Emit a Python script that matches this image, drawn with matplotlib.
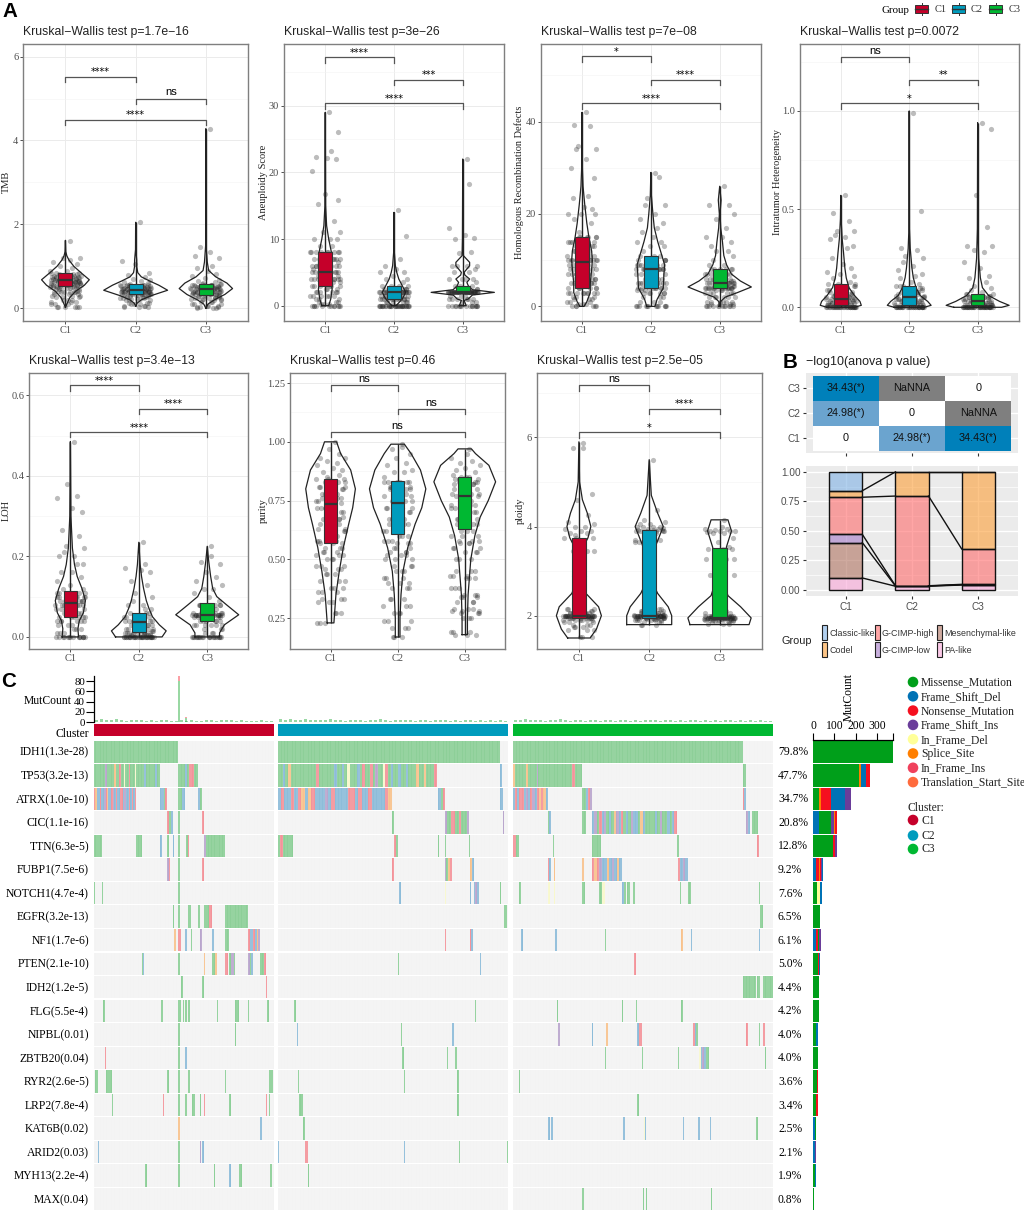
import matplotlib
matplotlib.use('Agg')
import matplotlib.pyplot as plt
import numpy as np
from matplotlib.patches import Rectangle, Circle

W, H = 1024, 1211
SERIF = 'Liberation Serif'
SANS = 'Liberation Sans'
cats = ['C1', 'C2', 'C3']
cl_col = ['#C5002A', '#009CBD', '#00B832']

# hand typed jitter offsets shared by the point clouds
jitter = [-.12, .17, .03, -.2, .09, -.05, .21, -.16, .13, -.02, .19, -.09, .06, -.18, .15, -.13, .01, .22, -.07, .11,
          -.21, .04, .18, -.1, .14, -.15, .08, -.03, .2, -.19, .05, .12, -.06, .16, -.14, .02, -.22, .1, -.08, .17,
          -.17, .07, .21, -.04, .13, -.11, .19, -.01, -.2, .15, .03, -.13, .09, .18, -.16, .06, -.09, .2, -.06, .12]

# TMB
tmb_vy = [[.02, .1, .25, .4, .55, .68, .85, 1.0, 1.15, 1.25, 1.35, 1.62],
          [.05, .12, .2, .3, .43, .55, .65, .75, .85, 1.0, 1.15, 1.4, 2.05],
          [0, .1, .2, .33, .47, .6, .75, .9, 1.1, 1.5, 4.28]]
tmb_vw = [[0, .02, .06, .14, .27, .34, .22, .12, .05, .02, .005, 0],
          [0, .02, .08, .22, .455, .33, .2, .08, .03, .015, .015, .002, 0],
          [0, .03, .12, .27, .38, .3, .14, .04, .02, .003, 0]]
tmb_box = [[.53, .68, .85], [.34, .44, .57], [.32, .45, .59]]
tmb_pts = [[.03, .03, .1, .15, .2, .28, .3, .35, .38, .4, .42, .45, .48, .5, .5, .52, .55, .55, .58, .6, .6, .62, .62, .65, .65,
            .68, .7, .7, .72, .75, .75, .78, .8, .82, .85, .88, .9, .95, 1, 1.05, 1.1, 1.15, 1.2, 1.2, 1.6],
           [.03, .06, .1, .12, .2, .22, .25, .28, .3, .32, .33, .35, .35, .38, .38, .4, .4, .42, .42, .44, .45, .45, .47, .48, .48,
            .5, .5, .52, .52, .55, .55, .58, .6, .62, .65, .68, .7, .75, .8, .85, 1.05, 1.12, 2.05],
           [0, .03, .05, .1, .15, .2, .22, .25, .28, .3, .32, .33, .35, .36, .38, .4, .4, .42, .43, .45, .45, .47, .48, .5, .5, .52,
            .55, .56, .58, .6, .62, .65, .68, .72, .78, .82, .9, .95, 1.0, 1.2, 1.25, 1.35, 1.45, 4.28]]

# Aneuploidy
ane_vy = [[0, 1, 2.5, 4, 6, 8, 10, 12, 15, 29], [0, 1, 2, 3, 4, 5, 6, 8, 14],
          [0, .8, 1, 1.6, 2, 2.4, 3, 3.5, 4, 4.6, 5, 6, 6.5, 7.5, 10, 22]]
ane_vw = [[.05, .08, .1, .08, .1, .09, .05, .02, .005, 0], [.03, .12, .17, .12, .07, .04, .02, .005, 0],
          [.05, .02, .08, .14, .46, .14, .08, .06, .1, .03, .02, .1, .1, .01, .005, 0]]
ane_box = [[3, 5, 8], [1, 2, 2.9], [1.9, 2, 2.9]]
ane_pts = [[0, 0, 0, 0, .2, .5, 1, 1.5, 1.5, 2, 2, 2.5, 3, 3, 3.5, 4, 4, 4, 4.5, 5, 5, 5, 5.5, 6, 6, 6.5, 7, 7, 7, 8, 8, 8, 9, 9,
            10, 10, 10, 11, 11, 12.7, 15.2, 15.9, 16.7, 20.2, 22, 22.2, 22.3, 23.2, 26, 29],
           [0, 0, 0, 0, 0, 0, 0, 0, 0, 0, .5, .5, 1, 1, 1, 1, 1.5, 1.5, 2, 2, 2, 2, 2, 2, 2, 2, 2.5, 2.5, 3, 3, 3, 3, 3.5, 4, 4, 4.5,
            5, 5, 5.5, 6, 7, 10.4, 14.3],
           [0, 0, 0, 0, 0, .5, 1, 1, 1.5, 2, 2, 2, 2, 2, 2, 2, 2, 2, 2, 2, 2, 2, 2, 2.5, 3, 3, 3, 3.5, 4, 4, 4, 4, 5, 5, 5.5, 6, 6, 6,
            6, 7.9, 8, 10, 10.2, 10.6, 11.6, 18.2, 22]]

# Homologous recombination
hrd_vy = [[0, 1, 3, 5, 8, 10, 12, 15, 18, 22, 26, 30, 42], [0, 1.5, 4, 7, 9, 11, 14, 17, 20, 24, 29],
          [0, 1, 2, 3, 4.2, 5.5, 7, 9, 11, 14, 17, 20, 23, 26]]
hrd_vw = [[.03, .07, .12, .12, .14, .15, .14, .1, .07, .04, .015, .005, 0],
          [.06, .09, .18, .19, .2, .16, .1, .05, .03, .008, 0],
          [.01, .01, .08, .26, .46, .3, .17, .1, .06, .04, .015, .005, .02, 0]]
hrd_box = [[4, 9.5, 15], [4, 8, 11], [4, 5, 8]]
hrd_pts = [[0, 0, .5, 1, 1.5, 2, 3, 3, 3, 4, 4, 5, 5, 6, 6, 7, 7, 8, 8, 9, 9, 10, 10, 10, 10, 11, 11, 12, 13, 14, 14, 15, 15, 16,
            18, 19, 20, 20, 20, 21, 21.5, 23.5, 24, 27.8, 30, 32, 34, 34, 34.8, 39, 39.3, 42],
           [0, 0, 0, 0, 1, 2, 3, 3, 3.5, 4, 4, 4, 5, 5, 5, 6, 6, 7, 7, 8, 8, 8, 9, 9, 9, 10, 10, 11, 12, 13, 13, 14, 14, 15, 16, 17,
            18, 19, 20, 22, 22, 23.5, 28, 28.8],
           [0, 0, 0, 0, .5, 1, 1, 2, 2, 3, 3, 3.5, 4, 4, 4, 4, 4, 4.5, 4.5, 5, 5, 5, 5, 5.5, 6, 6, 7, 7, 8, 8, 9, 9, 10, 11, 12, 12, 13,
            14, 15, 15, 17, 19, 20, 22, 22, 26]]

# Intratumor heterogeneity
ith_vy = [[0, .01, .03, .06, .1, .15, .2, .28, .35, .45, .57], [0, .01, .03, .06, .1, .15, .2, .3, .4, 1.0],
          [0, .01, .03, .06, .1, .15, .25, .4, .94]]
ith_vw = [[.2, .3, .28, .2, .12, .08, .06, .04, .02, .005, 0], [.22, .32, .27, .16, .1, .06, .04, .015, .004, 0],
          [.35, .46, .32, .16, .07, .04, .015, .004, 0]]
ith_box = [[.01, .04, .12], [.01, .05, .11], [.01, .03, .07]]
ith_pts = [[0, 0, 0, 0, 0, 0, 0, 0, 0, 0, .01, .01, .01, .02, .02, .03, .03, .03, .04, .04, .05, .05, .06, .07, .08, .09, .1, .11, .12,
            .13, .15, .16, .17, .18, .2, .22, .25, .3, .31, .35, .36, .37, .39, .39, .44, .48, .57],
           [0, 0, 0, 0, 0, 0, 0, 0, 0, 0, .01, .01, .01, .02, .02, .03, .03, .04, .04, .05, .05, .06, .07, .08, .09, .1, .11, .12, .13,
            .15, .16, .17, .19, .21, .23, .25, .26, .29, .3, .49, .99],
           [0, 0, 0, 0, 0, 0, 0, 0, 0, 0, 0, 0, .01, .01, .01, .01, .02, .02, .03, .03, .04, .04, .05, .05, .06, .07, .08, .09, .1, .11,
            .13, .15, .16, .2, .23, .28, .29, .31, .31, .41, .57, .91, .94]]

# LOH
loh_vy = [[0, .02, .04, .06, .09, .12, .15, .18, .22, .3, .485], [0, .015, .03, .05, .07, .09, .12, .15, .18, .235],
          [0, .01, .03, .055, .08, .1, .12, .15, .19, .225]]
loh_vw = [[.12, .11, .13, .19, .22, .17, .1, .06, .03, .008, 0], [.34, .4, .3, .2, .15, .11, .07, .04, .02, 0],
          [.18, .18, .25, .46, .28, .14, .08, .05, .02, 0]]
loh_box = [[.05, .085, .115], [.012, .037, .06], [.04, .055, .083]]
loh_pts = [[0, 0, 0, 0, 0, .01, .02, .03, .04, .04, .05, .05, .06, .06, .07, .07, .08, .08, .09, .09, .1, .1, .1, .11, .11, .12, .12,
            .13, .14, .15, .16, .16, .18, .18, .2, .2, .21, .22, .225, .25, .265, .31, .32, .345, .35, .38, .485],
           [0, 0, 0, 0, 0, 0, 0, 0, 0, 0, .005, .005, .01, .01, .01, .015, .02, .02, .03, .03, .04, .04, .05, .05, .06, .07, .07, .08, .08,
            .09, .1, .11, .13, .14, .16, .165, .17, .18, .235],
           [0, 0, 0, 0, 0, 0, 0, .01, .02, .03, .03, .04, .04, .05, .05, .055, .055, .055, .055, .055, .055, .055, .06, .06, .07, .08, .08, .09,
            .1, .11, .12, .12, .13, .14, .15, .16, .18, .185, .2, .225]]

# purity
pur_vy = [[.23, .27, .35, .45, .55, .65, .72, .8, .88, .95, 1.0], [.17, .25, .35, .45, .55, .65, .72, .8, .88, .95, .99],
          [.18, .25, .35, .5, .6, .68, .75, .83, .9, .95, .97]]
pur_vw = [[.05, .06, .08, .13, .19, .27, .33, .37, .3, .15, .09], [.035, .035, .05, .08, .15, .26, .36, .42, .34, .2, .1],
          [.04, .04, .05, .09, .15, .23, .35, .46, .36, .16, .1]]
pur_box = [[.57, .735, .84], [.61, .74, .835], [.63, .77, .85]]
pur_pts = [[.23, .27, .32, .33, .36, .38, .41, .44, .46, .47, .5, .52, .53, .55, .57, .58, .6, .62, .63, .65, .67, .68, .7, .72, .74, .75,
            .76, .78, .8, .81, .82, .83, .84, .85, .86, .87, .88, .89, .9, .91, .92, .93, .93, .95, .97, 1.0],
           [.17, .21, .24, .27, .3, .33, .38, .4, .42, .45, .47, .5, .52, .53, .55, .57, .58, .6, .62, .65, .67, .7, .72, .72, .75, .77, .78,
            .8, .81, .83, .83, .85, .87, .87, .88, .9, .91, .93, .95, .97, .98, .99],
           [.18, .19, .25, .27, .28, .29, .32, .34, .35, .38, .42, .43, .45, .5, .53, .55, .57, .58, .6, .62, .65, .67, .7, .72, .73, .75, .77,
            .78, .8, .82, .83, .83, .84, .85, .86, .87, .88, .89, .9, .91, .92, .93, .95, .97]]

# ploidy
plo_vy = [[1.5, 1.7, 2, 2.2, 2.5, 2.8, 3.2, 3.5, 3.75, 4, 4.3, 4.6, 5, 5.9],
          [1.8, 2, 2.2, 2.5, 2.8, 3.2, 3.6, 4, 4.3, 4.7, 5.5], [1.8, 1.95, 2.2, 2.45, 2.8, 3.2, 3.55, 3.9, 4.15]]
plo_vw = [[.16, .25, .32, .28, .1, .03, .03, .05, .13, .17, .12, .05, .01, 0],
          [.32, .32, .27, .12, .03, .03, .1, .2, .12, .03, 0], [.42, .45, .3, .12, .05, .05, .1, .17, .12]]
plo_box = [[1.95, 2.0, 3.75], [1.95, 2.0, 3.93], [1.92, 1.95, 3.52]]
plo_pts = [[1.52, 1.68, 1.75, 1.8, 1.85, 1.9, 1.9, 1.95, 1.95, 1.95, 2, 2, 2, 2, 2, 2, 2, 2, 2, 2, 2, 2.05, 2.05, 2.1, 2.15, 2.9, 3.45, 3.75,
            3.8, 3.85, 3.85, 3.9, 3.9, 3.95, 4, 4, 4.05, 4.1, 4.25, 4.6, 4.72, 5.75, 5.75, 5.88],
           [1.8, 1.85, 1.9, 1.9, 1.92, 1.95, 1.95, 1.95, 1.97, 1.97, 2, 2, 2, 2, 2, 2, 2, 2, 2, 2.02, 2.02, 2.05, 2.05, 2.1, 2.15, 3.65, 3.7, 3.85,
            3.9, 3.9, 3.92, 3.95, 3.95, 3.97, 4, 4, 4, 4, 4.05, 4.05, 4.1, 4.15, 4.38, 5.5],
           [1.82, 1.85, 1.88, 1.9, 1.9, 1.92, 1.92, 1.95, 1.95, 1.95, 1.95, 1.95, 1.95, 1.95, 1.97, 1.97, 2, 2, 2, 2.05, 2.1, 2.92, 3.27, 3.5, 3.55,
            3.65, 3.75, 3.85, 3.85, 3.88, 3.9, 3.9, 3.9, 3.9, 3.92, 3.95, 3.95, 4.0, 4.15]]

# panel B
anova = [[0, 24.98, 34.43], [24.98, 0, np.nan], [34.43, np.nan, 0]]
anova_txt = [['0', '24.98(*)', '34.43(*)'], ['24.98(*)', '0', 'NaNNA'], ['34.43(*)', 'NaNNA', '0']]
sub_names = ['PA-like', 'Mesenchymal-like', 'G-CIMP-low', 'G-CIMP-high', 'Codel', 'Classic-like']
sub_col = ['#F9A6D8', '#B07260', '#A67CC8', '#FF6B6B', '#FD9F38', '#7FB2E5']
sub_c1 = [.10, .30, .07, .315, .055, .16]
sub_c2 = [.03, .002, .002, .761, .205, 0]
sub_c3 = [.04, .003, .003, .30, .654, 0]

# panel C
genes = ['IDH1(1.3e-28)', 'TP53(3.2e-13)', 'ATRX(1.0e-10)', 'CIC(1.1e-16)', 'TTN(6.3e-5)', 'FUBP1(7.5e-6)', 'NOTCH1(4.7e-4)',
         'EGFR(3.2e-13)', 'NF1(1.7e-6)', 'PTEN(2.1e-10)', 'IDH2(1.2e-5)', 'FLG(5.5e-4)', 'NIPBL(0.01)', 'ZBTB20(0.04)',
         'RYR2(2.6e-5)', 'LRP2(7.8e-4)', 'KAT6B(0.02)', 'ARID2(0.03)', 'MYH13(2.2e-4)', 'MAX(0.04)']
pct = ['79.8%', '47.7%', '34.7%', '20.8%', '12.8%', '9.2%', '7.6%', '6.5%', '6.1%', '5.0%', '4.4%', '4.2%', '4.0%', '4.0%',
       '3.6%', '3.4%', '2.5%', '2.1%', '1.9%', '0.8%']
mut_names = ['Missense_Mutation', 'Frame_Shift_Del', 'Nonsense_Mutation', 'Frame_Shift_Ins', 'In_Frame_Del', 'Splice_Site',
             'In_Frame_Ins', 'Translation_Start_Site']
mut_codes = 'MDNIFSAT'
mut_col = ['#009F1A', '#0072B5', '#F5101F', '#6A3D9A', '#FFFF99', '#FF7F00', '#F0415C', '#FF6B3D']
alpha_cell = .42

# (first column, last column, mutation codes spread over that span)
c1_segs = [[(0, 84, 'M')],
           [(0, 66, 'MMMMMMMIMMMMMSMMNMMFMMNMMMFMMMMMDMMMMMMDMM'), (84, 104, 'MMMDMNNMM')],
           [(0, 42, 'NSDDNDDINSDDNIDNDDNNDIDDNDNDN'), (66, 73, 'DDMN'), (84, 91, 'MMDD'), (104, 108, 'DM')],
           [(73, 79, 'NMD'), (84, 86, 'M'), (108, 110, 'N')],
           [(0, 8, 'M'), (42, 48, 'M'), (66, 67.5, 'D'), (73, 75, 'M'), (79, 80, 'D'), (84, 86, 'M'), (92, 95, 'MN'), (110, 131, 'IMMMMMMMMMM')],
           [(73, 76, 'IN'), (84, 86, 'M'), (108, 110, 'N')],
           [(0, 1, 'M'), (8, 9, 'M'), (84, 86, 'M')],
           [(79, 80, 'M'), (84, 86, 'M'), (94, 97, 'M'), (104, 106, 'M'), (110, 118, 'MMN'), (131, 154, 'M')],
           [(80, 82, 'S'), (84, 87, 'N'), (91, 93, 'D'), (97, 98, 'M'), (106, 108, 'I'), (118, 120, 'D'), (131, 135, 'M'), (154, 166, 'NDDNDSI')],
           [(48, 50, 'MD'), (84, 86, 'M'), (110, 111, 'S'), (118, 121, 'M'), (121, 123, 'S'), (131, 134, 'N'), (135, 141, 'MIIM'), (154, 159, 'IMD'), (166, 170, 'M'), (170, 172, 'N')],
           [(87, 89, 'M'), (108, 110, 'M'), (172, 173, 'N')],
           [(9, 11, 'M'), (67, 69, 'M'), (84, 87, 'M'), (89, 90, 'M'), (91, 93, 'M'), (94, 96, 'M'), (123, 124, 'M'), (141, 145, 'M'), (154, 155, 'M'), (173, 175, 'M')],
           [(84, 86, 'M'), (141, 142, 'M')],
           [(11, 12, 'N'), (84, 86, 'M'), (91, 93, 'D')],
           [(1, 4, 'M'), (12, 18, 'M'), (73, 75, 'M'), (84, 86, 'M'), (94, 96, 'M'), (131, 132, 'M'), (175, 179, 'M')],
           [(18, 19, 'M'), (69, 70, 'N'), (84, 86, 'M'), (91, 93, 'M'), (98, 101, 'M'), (106, 107, 'M'), (110, 111, 'N'), (135, 137, 'M'), (172, 173, 'N'), (175, 176, 'M')],
           [(84, 86, 'S'), (166, 168, 'D')],
           [(4, 5, 'D'), (84, 86, 'M'), (106, 107, 'I'), (108, 110, 'D')],
           [(51, 53, 'M'), (84, 86, 'M'), (120, 121, 'M'), (135, 137, 'D'), (145, 148, 'M'), (176, 178, 'M')],
           []]
c2_segs = [[(0, 222, 'M')],
           [(0, 159, 'MMDMSMMMMMMMMMMNMMMMMMDMMDMFMMMDMNMMNMIMMFNMDMMDMMDMMMSMMSMMMN'), (222, 224, 'D')],
           [(0, 114, 'DNDDNDNSDSNDDDIDNDDDDNNDNDDNDDDDNS'), (160, 167, 'DDMN'), (222, 225, 'D')],
           [(114, 116, 'M'), (167, 191, 'IMMNNMMNMMMI'), (225, 226, 'I')],
           [(0, 15, 'MNMMMM'), (116, 120, 'NM'), (160, 161, 'M'), (167, 168, 'M'), (191, 192, 'M')],
           [(114, 116, 'N'), (167, 174, 'IMSN'), (192, 196, 'SD')],
           [(121, 123, 'D'), (167, 168, 'F'), (192, 193, 'D'), (196, 201, 'DID'), (222, 223, 'M')],
           [(226, 229, 'M')],
           [(167, 168, 'N'), (192, 195, 'ND')],
           [(120, 121, 'M'), (202, 203, 'D')],
           [],
           [(16, 18, 'M'), (197, 198, 'M')],
           [(19, 20, 'D'), (123, 124, 'M'), (174, 176, 'D')],
           [(124, 126, 'M'), (169, 170, 'M'), (177, 179, 'M')],
           [(20, 21, 'M'), (126, 127, 'M'), (179, 181, 'M')],
           [(21, 25, 'M'), (179, 181, 'M')],
           [(25, 27, 'M')],
           [(0, 1, 'D'), (27, 30, 'N'), (126, 127, 'D'), (181, 182, 'M'), (229, 230, 'M')],
           [(30, 31, 'M')],
           []]
c3_segs = [[(0, 230, 'M')],
           [(0, 24, 'SMMMMMSMMMM'), (24, 25, 'I'), (25, 69, 'MMMMMMMMMMMNMM'), (230, 233, 'M')],
           [(0, 35, 'DNDNNDIDNIDNSNSD'), (69, 79, 'MMDNI'), (230, 233, 'ND')],
           [(35, 38, 'MD'), (69, 73, 'M'), (79, 164, 'DIMNDIMDMSIDNMDMIDDMSDMMMMDMIMMDMDN'), (233, 237, 'ID'), (239, 245, 'M')],
           [(0, 6, 'NM'), (40, 41, 'M'), (79, 88, 'M'), (164, 166, 'M'), (244, 246, 'N')],
           [(35, 38, 'ND'), (41, 42, 'S'), (69, 71, 'S'), (79, 109, 'NSNIDDSDIDSD'), (165, 175, 'NDID')],
           [(6, 8, 'M'), (35, 37, 'F'), (41, 42, 'F'), (69, 72, 'M'), (86, 89, 'M'), (89, 92, 'F'), (109, 113, 'DM'), (114, 117, 'M'), (120, 122, 'M'), (167, 168, 'M'), (175, 178, 'M'), (246, 247, 'M')],
           [(247, 250, 'M')],
           [(8, 10, 'D'), (42, 44, 'D'), (92, 93, 'M'), (168, 170, 'S'), (178, 179, 'D'), (246, 247, 'D')],
           [(121, 123, 'N')],
           [(230, 243, 'M'), (244, 247, 'M'), (250, 260, 'M')],
           [(44, 45, 'M'), (109, 110, 'M'), (123, 124, 'M'), (168, 170, 'M')],
           [(45, 47, 'I'), (79, 80, 'D'), (93, 95, 'S'), (124, 129, 'DN'), (180, 185, 'NDM'), (233, 235, 'N'), (246, 247, 'M'), (250, 252, 'N')],
           [(92, 93, 'M'), (129, 130, 'M'), (165, 166, 'M'), (186, 196, 'FDIDMM'), (252, 253, 'M')],
           [(6, 7, 'M')],
           [(124, 126, 'M')],
           [(35, 37, 'D'), (38, 40, 'D'), (110, 112, 'D'), (131, 133, 'FD'), (170, 171, 'D'), (185, 187, 'D'), (197, 198, 'D'), (243, 245, 'M')],
           [], [],
           [(69, 71, 'M'), (130, 131, 'M'), (133, 134, 'M'), (198, 199, 'M')]]

# mutation counts, one value for every five columns of the top bars
mut_top_c1 = [4, 5, 3, 4, 5, 3, 2, 3, 4, 3, 2, 3, 2, 3, 4, 2, 2, 3, 2, 3, 1, 2, 4, 3, 2, 3, 4, 3, 2, 3, 2, 1, 2, 3, 2, 1]
mut_top_c2 = [5, 4, 5, 4, 3, 5, 3, 4, 3, 4, 5, 3, 4, 2, 3, 4, 3, 2, 4, 3, 5, 3, 2, 3, 4, 3, 3, 2, 4, 3, 2, 3, 4, 3, 2, 3, 2, 3, 4, 2, 3, 2, 3, 2, 3, 2]
mut_top_c3 = [4, 3, 5, 3, 4, 3, 2, 4, 3, 5, 3, 2, 4, 3, 2, 3, 4, 2, 3, 3, 2, 4, 3, 2, 3, 2, 4, 3, 3, 2, 3, 4, 2, 3, 2, 3, 3, 2, 4, 2, 3, 2, 3, 4, 2, 3, 2, 3, 2, 3, 2, 2]
spike_col = [84, 91]
spike_missense = [80, 8]
spike_other = [10, 2]

# right hand stacked counts per gene: (code, count)
gene_counts = [[('M', 375)],
               [('M', 215), ('S', 11), ('D', 19), ('N', 20), ('I', 3)],
               [('M', 29), ('S', 9), ('N', 48), ('D', 64), ('I', 25)],
               [('D', 30), ('M', 52), ('I', 17), ('S', 5), ('N', 8)],
               [('M', 95), ('N', 8), ('I', 9)],
               [('D', 14), ('N', 12), ('S', 6), ('N', 5), ('I', 4), ('D', 4)],
               [('M', 20), ('F', 11), ('D', 11)],
               [('M', 33), ('N', 1)],
               [('D', 12), ('N', 10), ('M', 5), ('I', 10)],
               [('M', 22), ('N', 7), ('D', 2)],
               [('M', 28)],
               [('M', 26), ('D', 1)],
               [('M', 15), ('D', 6), ('N', 4)],
               [('M', 21), ('D', 4)],
               [('M', 19), ('N', 3)],
               [('M', 15), ('N', 6)],
               [('D', 8), ('M', 7)],
               [('D', 8), ('N', 3), ('I', 2)],
               [('M', 10), ('D', 2)],
               [('M', 5)]]
count_ticks = [0, 100, 200, 300, 375]
count_labels = ['0', '100', '200', '300', '']

titles = ['Kruskal\u2212Wallis test p=1.7e\u221216', 'Kruskal\u2212Wallis test p=3e\u221226', 'Kruskal\u2212Wallis test p=7e\u221208',
          'Kruskal\u2212Wallis test p=0.0072', 'Kruskal\u2212Wallis test p=3.4e\u221213', 'Kruskal\u2212Wallis test p=0.46',
          'Kruskal\u2212Wallis test p=2.5e\u221205']
ylabels = ['TMB', 'Aneuploidy Score', 'Homologous Recombination Defects', 'Intratumor Heterogeneity', 'LOH', 'purity', 'ploidy']
ylabel_x = [6, 263, 519, 777, 6, 263, 520]
boxes_px = [(23.3, 44, 248, 320.7), (284, 44, 504, 320.7), (540.7, 44, 761, 320.7), (799.7, 44, 1018.7, 320.7),
            (29.3, 372.7, 248.3, 649), (290.3, 372.7, 505, 649), (536.7, 372.7, 761.7, 649)]
ylims = [(-.296, 6.3), (-2.25, 39.25), (-3.1, 56.8), (-.0683, 1.341), (-.03, .656), (.119, 1.294), (1.253, 7.45)]
yticks = [[0, 2, 4, 6], [0, 10, 20, 30], [0, 20, 40], [0, .5, 1.0], [0, .2, .4, .6], [.25, .5, .75, 1, 1.25], [2, 4, 6]]
ytick_txt = [['0', '2', '4', '6'], ['0', '10', '20', '30'], ['0', '20', '40'], ['0.0', '0.5', '1.0'], ['0.0', '0.2', '0.4', '0.6'],
             ['0.25', '0.50', '0.75', '1.00', '1.25'], ['2', '4', '6']]
bracket_y = [[5.52, 5.0, 4.5], [37.3, 33.9, 30.4], [54.1, 49.1, 44.0], [1.277, 1.16, 1.04], [.625, .567, .509], [1.241, 1.141, 1.043], [7.17, 6.64, 6.11]]
bracket_txt = [['****', 'ns', '****'], ['****', '***', '****'], ['*', '****', '****'], ['ns', '**', '*'], ['****', '****', '****'],
               ['ns', 'ns', 'ns'], ['ns', '****', '*']]
viol_y = [tmb_vy, ane_vy, hrd_vy, ith_vy, loh_vy, pur_vy, plo_vy]
viol_w = [tmb_vw, ane_vw, hrd_vw, ith_vw, loh_vw, pur_vw, plo_vw]
box_q = [tmb_box, ane_box, hrd_box, ith_box, loh_box, pur_box, plo_box]
points = [tmb_pts, ane_pts, hrd_pts, ith_pts, loh_pts, pur_pts, plo_pts]


def px_axes(l, t, r, b, **kw):
    return fig.add_axes([l / W, 1 - b / H, (r - l) / W, (b - t) / H], **kw)


fig = plt.figure(figsize=(W / 100, H / 100), dpi=100)
ov = fig.add_axes([0, 0, 1, 1], zorder=10)
ov.set_xlim(0, W)
ov.set_ylim(H, 0)
ov.axis('off')

# panel A
for n in range(7):
    l, t, r, b = boxes_px[n]
    ax = px_axes(l, t, r, b)
    ax.set_xlim(.4, 3.6)
    ax.set_ylim(*ylims[n])
    ax.set_xticks([1, 2, 3])
    ax.set_xticklabels(cats, family=SERIF, fontsize=7.5, color='#4D4D4D')
    ax.set_yticks(yticks[n])
    ax.set_yticklabels(ytick_txt[n], family=SERIF, fontsize=7.5, color='#4D4D4D')
    minor = (np.array(yticks[n][:-1]) + np.array(yticks[n][1:])) / 2
    ax.set_yticks(list(minor) + [yticks[n][-1] + (yticks[n][1] - yticks[n][0]) / 2], minor=True)
    ax.set_ylim(*ylims[n])
    ax.tick_params(length=2, width=.6, color='#333333', pad=1.5)
    ax.tick_params(which='minor', length=0)
    ax.grid(True, which='major', color='#EBEBEB', lw=.7)
    ax.grid(True, which='minor', axis='y', color='#F3F3F3', lw=.4)
    ax.set_axisbelow(True)
    for s in ax.spines.values():
        s.set_color('#7F7F7F')
        s.set_linewidth(1)
    for i in range(3):
        y = np.array(viol_y[n][i])
        w = np.array(viol_w[n][i])
        xx = np.concatenate([i + 1 - w, (i + 1 + w)[::-1], [i + 1 - w[0]]])
        yy = np.concatenate([y, y[::-1], [y[0]]])
        ax.plot(xx, yy, color='#222222', lw=.9, zorder=2)
        ax.vlines(i + 1, y.min(), y.max(), color='#222222', lw=1, zorder=2)
        vals = np.array(points[n][i])
        q1, med, q3 = box_q[n][i]
        # the cloud is much denser inside the box, so the lower values go round again
        for phase in range(3):
            shown = vals if phase == 0 else vals[vals <= q3]
            off = np.array([jitter[(j + 7 * i + 5 * n + 23 * phase) % len(jitter)] for j in range(len(shown))])
            if phase == 0:
                off[-1] = .06
            ax.scatter(i + 1 + off, shown, s=14, color='#222222', alpha=.3, lw=0, zorder=3)
        ax.add_patch(Rectangle((i + .9, q1), .2, q3 - q1, fc=cl_col[i], ec='#333333', lw=.8, zorder=4))
        ax.plot([i + .9, i + 1.1], [med, med], color='#333333', lw=1.6, zorder=5, solid_capstyle='butt')
    tip = (ylims[n][1] - ylims[n][0]) * 5.5 / (b - t)
    for k, (a, c) in enumerate([(1, 2), (2, 3), (1, 3)]):
        by = bracket_y[n][k]
        ax.plot([a, a, c, c], [by - tip, by, by, by - tip], color='#555555', lw=.9, zorder=6)
        lab = bracket_txt[n][k]
        if lab == 'ns':
            ax.text((a + c) / 2, by + tip * 1.1, lab, family=SANS, fontsize=8, ha='center', va='center', zorder=7)
        else:
            ax.text((a + c) / 2, by + tip * .8, lab, family='DejaVu Sans', fontsize=7, ha='center', va='center', zorder=7)
    ov.text(l, t - 9, titles[n], family=SANS, fontsize=8.85, color='#222222', va='baseline')
    ov.text(ylabel_x[n], (t + b) / 2, ylabels[n], family=SERIF, fontsize=7.5, rotation=90, ha='center', va='center', color='#222222')

ov.text(2, 17, 'A', family=SANS, fontsize=14.8, weight='bold', va='baseline')
ov.text(783, 368, 'B', family=SANS, fontsize=14.8, weight='bold', va='baseline')
ov.text(1, 687, 'C', family=SANS, fontsize=14.8, weight='bold', va='baseline')

# Group legend on top
ov.text(881, 13, 'Group', family=SERIF, fontsize=7.8, va='baseline')
for i, (kx, tx) in enumerate(zip([915, 952, 989], [935, 971, 1009])):
    ov.plot([kx + 6.5, kx + 6.5], [2.5, 15], color='#333333', lw=.7)
    ov.add_patch(Rectangle((kx, 5), 13, 8, fc=cl_col[i], ec='#333333', lw=.7, zorder=3))
    ov.plot([kx, kx + 13], [9, 9], color='#333333', lw=1, zorder=4)
    ov.text(tx, 12, cats[i], family=SERIF, fontsize=7.5, va='baseline', color='#333333')

# panel B heatmap
ax = px_axes(806, 373, 1018, 453, facecolor='#EBEBEB')
ax.set_xlim(.4, 3.6)
ax.set_ylim(.4, 3.6)
ax.grid(True, color='white', lw=1)
ax.set_axisbelow(True)
ax.set_xticks([1, 2, 3])
ax.set_xticklabels(['', '', ''])
ax.set_yticks([1, 2, 3])
ax.set_yticklabels(cats, family=SANS, fontsize=7.2, color='#4D4D4D')
ax.tick_params(length=2.5, width=.8, color='#333333', pad=1.5)
for s in ax.spines.values():
    s.set_visible(False)
heat_col = {0: '#FFFFFF', 24.98: '#6BA4CF', 34.43: '#0080BA'}
for r_i in range(3):
    for c_i in range(3):
        v = anova[r_i][c_i]
        fc = '#7F7F7F' if np.isnan(v) else heat_col[v]
        ax.add_patch(Rectangle((c_i + .5, r_i + .5), 1, 1, fc=fc, ec='none'))
        ax.text(c_i + 1, r_i + 1, anova_txt[r_i][c_i], family=SANS, fontsize=7.8, ha='center', va='center', color='#111111')
ov.text(806, 365, '\u2212log10(anova p value)', family=SANS, fontsize=9, va='baseline', color='#222222')

# panel B bars
ax = px_axes(806, 466, 1018, 596, facecolor='#EBEBEB')
ax.set_xlim(.4, 3.6)
ax.set_ylim(-.053, 1.05)
ax.set_yticks([0, .25, .5, .75, 1])
ax.set_yticklabels(['0.00', '0.25', '0.50', '0.75', '1.00'], family=SANS, fontsize=7.2, color='#4D4D4D')
ax.set_yticks([.125, .375, .625, .875], minor=True)
ax.set_xticks([1, 2, 3])
ax.set_xticklabels(cats, family=SANS, fontsize=7.2, color='#4D4D4D')
ax.tick_params(length=2.5, width=.8, color='#333333', pad=1.5)
ax.tick_params(which='minor', length=0)
ax.grid(True, which='major', color='white', lw=1)
ax.grid(True, which='minor', axis='y', color='white', lw=.5)
ax.set_axisbelow(True)
for s in ax.spines.values():
    s.set_visible(False)
stacks = np.array([sub_c1, sub_c2, sub_c3])
tops = np.cumsum(stacks, axis=1)
for c_i in range(3):
    bottom = 0
    for s_i in range(6):
        ax.bar(c_i + 1, stacks[c_i, s_i], .5, bottom=bottom, color=sub_col[s_i], alpha=.6, lw=0, zorder=2)
        ax.bar(c_i + 1, stacks[c_i, s_i], .5, bottom=bottom, fc='none', ec='#111111', lw=1, zorder=3)
        bottom += stacks[c_i, s_i]
for s_i in range(6):
    for c_i in range(2):
        ax.plot([c_i + 1.25, c_i + 1.75], [tops[c_i, s_i], tops[c_i + 1, s_i]], color='#111111', lw=1, zorder=4)

ov.text(782, 644, 'Group', family=SANS, fontsize=7.8, va='baseline', color='#222222')
sub_order = [5, 4, 3, 2, 1, 0]
key_x = [822, 822, 875, 875, 937, 937]
key_y = [624.5, 642, 624.5, 642, 624.5, 642]
for p, s_i in enumerate(sub_order):
    ov.add_patch(Rectangle((key_x[p], key_y[p]), 5, 15, fc=sub_col[s_i], alpha=.6, ec='none'))
    ov.add_patch(Rectangle((key_x[p], key_y[p]), 5, 15, fc='none', ec='#222222', lw=.8))
    ov.text(key_x[p] + 7, key_y[p] + 11, sub_names[s_i], family=SANS, fontsize=6.4, va='baseline', color='#333333')

# panel C
onco_x = [(94, 274, 180), (277.7, 507.7, 230), (512.7, 773, 260)]
onco_segs = [c1_segs, c2_segs, c3_segs]
top_vals = [mut_top_c1, mut_top_c2, mut_top_c3]
for c_i, (l, r, n_col) in enumerate(onco_x):
    # top bars
    ax = px_axes(l, 675.9, r, 722)
    ax.set_xlim(0, n_col)
    ax.set_ylim(0, 90)
    ax.bar(np.arange(len(top_vals[c_i])) * 5 + 2.5, top_vals[c_i], 3, color=mut_col[0], alpha=.4, lw=0)
    for s in ax.spines.values():
        s.set_visible(False)
    ax.set_xticks([])
    if c_i == 0:
        ax.bar(spike_col, spike_missense, 2, align='edge', color=mut_col[0], alpha=.4, lw=0)
        ax.bar(spike_col, spike_other, 2, bottom=spike_missense, align='edge', color=mut_col[2], alpha=.4, lw=0)
        ax.spines['left'].set_visible(True)
        ax.spines['left'].set_linewidth(.9)
        ax.set_yticks([0, 20, 40, 60, 80])
        ax.set_yticklabels(['0', '20', '40', '60', '80'], family=SERIF, fontsize=7.9)
        ax.tick_params(length=5.5, width=.8, pad=1)
    else:
        ax.set_yticks([])
    # cluster strip
    ov.add_patch(Rectangle((l, 724), r - l, 11.5, fc=cl_col[c_i], ec='none'))
    # mutation rows
    ax = px_axes(l, 740, r, 1211)
    ax.set_xlim(0, n_col)
    ax.set_ylim(19.5, -.5)
    ax.axis('off')
    ax.barh(np.arange(20), n_col, .95, color='#F3F3F3', lw=0)
    for g_i, segs in enumerate(onco_segs[c_i]):
        for start, end, codes in segs:
            step = (end - start) / len(codes)
            lefts = start + step * np.arange(len(codes))
            cols = [mut_col[mut_codes.index(k)] for k in codes]
            ax.barh(g_i, step, .95, left=lefts, color=cols, alpha=alpha_cell, lw=0)
    ax.vlines(np.arange(0, n_col, 2.7), -.5, 19.5, color='white', lw=.35, alpha=.35)

ov.text(72, 704, 'MutCount', family=SERIF, fontsize=8.4, ha='right', va='baseline')
ov.text(89, 737, 'Cluster', family=SERIF, fontsize=8.4, ha='right', va='baseline')
row_h = (1211 - 740) / 20
for g_i in range(20):
    yy = 740 + row_h * (g_i + .5) + 3.5
    ov.text(89, yy + .5, genes[g_i], family=SERIF, fontsize=8.4, ha='right', va='baseline')
    ov.text(778, yy, pct[g_i], family=SERIF, fontsize=8.4, ha='left', va='baseline')

# right stacked counts
ax = px_axes(813, 740, 893.4, 1211)
ax.set_xlim(0, 375)
ax.set_ylim(19.5, -.5)
for g_i, parts in enumerate(gene_counts):
    left = 0
    for code, cnt in parts:
        ax.barh(g_i, cnt, .95, left=left, color=mut_col[mut_codes.index(code)], lw=0)
        left += cnt
for k in ['left', 'right', 'bottom']:
    ax.spines[k].set_visible(False)
ax.spines['top'].set_linewidth(.9)
ax.xaxis.tick_top()
ax.set_xticks(count_ticks)
ax.set_xticklabels(count_labels, family=SERIF, fontsize=8.4)
ax.set_yticks([])
ax.tick_params(length=5, width=.8, pad=1)
ov.text(849, 697, 'MutCount', family=SERIF, fontsize=8.4, rotation=90, ha='center', va='center')

# right legends
for i, name in enumerate(mut_names):
    yy = 682 + i * 14.3
    ov.add_patch(Circle((913, yy), 5.3, fc=mut_col[i] if i != 4 else '#FFFF99', ec='none'))
    ov.text(921, yy + 3.5, name, family=SERIF, fontsize=8.4, va='baseline', color='#222222')
ov.text(907.7, 811, 'Cluster:', family=SERIF, fontsize=8.4, va='baseline', color='#222222')
for i, yy in enumerate([820, 835.5, 849]):
    ov.add_patch(Circle((913, yy), 5.3, fc=cl_col[i], ec='none'))
    ov.text(921, yy + 3.5, cats[i], family=SERIF, fontsize=8.4, va='baseline', color='#222222')

fig.savefig('out.png', dpi=100, facecolor='white')
